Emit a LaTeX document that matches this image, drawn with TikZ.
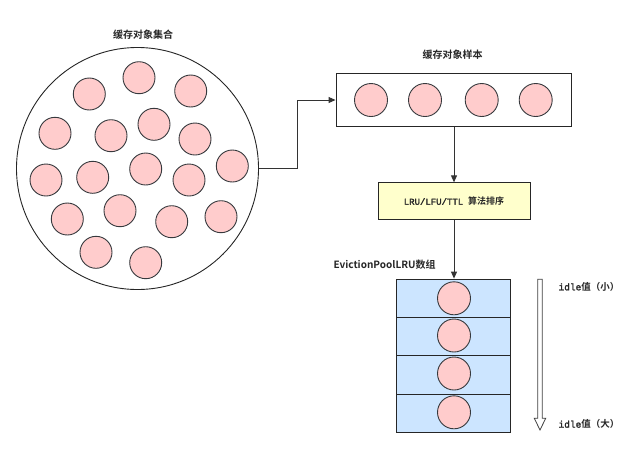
\documentclass[tikz,border=0pt]{standalone}
\usepackage{fontspec}
\setmainfont{Noto Sans CJK SC}
\newfontfamily\cjk{Noto Sans CJK SC}
\newfontfamily\cjkb{Noto Sans CJK SC Bold}
\newfontfamily\monofont{Liberation Mono}[RawFeature={embolden=2}]
\usetikzlibrary{arrows.meta}
\definecolor{ballfill}{HTML}{FFCCCC}
\definecolor{ballline}{HTML}{36393D}
\definecolor{arrfill}{HTML}{CCE5FF}
\definecolor{yelfill}{HTML}{FFFFCC}
\begin{document}
\begin{tikzpicture}[x=1pt,y=-1pt,
  ball/.style={circle,draw=ballline,fill=ballfill,line width=0.9pt,minimum size=32pt,inner sep=0pt},
  frame/.style={draw=black!85,line width=0.9pt},
  title/.style={font=\fontsize{10}{12}\selectfont\cjkb,text=black!85},
  conn/.style={draw=black!80,line width=0.9pt,-{Triangle[length=7pt,width=6pt]}},
  mono/.style={font=\fontsize{9}{11}\selectfont,text=black!85}]
\useasboundingbox (0,0) rectangle (642,456);
% big set
\node[frame,circle,minimum size=242pt,inner sep=0pt] (set) at (137.5,168.5) {};
\node[title] (settitle) at (143,35) {缓存对象集合};
\foreach \i/\x/\y in {1/139/77.7,2/89.3/94,3/190.7/91,4/55/133.3,5/111/135.7,6/154/124.3,7/195/139,8/46/180,9/92.7/177.3,10/145.7/169,11/189/180,12/232.3/166,13/67.3/219,14/120/210.7,15/171.7/221.7,16/221/216.7,17/96/252.3,18/145.7/262.7}
  \node[ball] (s\i) at (\x,\y) {};
% sample box
\node[frame,rectangle,minimum width=235pt,minimum height=53pt,inner sep=0pt] (sample) at (453.5,100) {};
\node[title] (sampletitle) at (452.7,55) {缓存对象样本};
\foreach \i/\x in {1/371,2/425,3/481.7,4/535.7}
  \node[ball,minimum size=33pt] (t\i) at (\x,100) {};
% connector set -> sample
\coordinate (bend1) at (297.3,168.5);
\coordinate (bend2) at (297.3,100);
\draw[conn] (set.east) -- (bend1) -- (bend2) -- (sample.west);
% algorithm box
\node[frame,rectangle,fill=yelfill,minimum width=152pt,minimum height=37pt,inner sep=0pt,mono] (algo) at (454,201.3) {{\monofont LRU/LFU/TTL}\hspace{5pt}{\cjkb 算法排序}};
\draw[conn] (sample.south -| algo.north) -- (algo.north);
% array
\node[title,anchor=west] (arrtitle) at (330,265) {EvictionPoolLRU数组};
\foreach \i/\y in {1/298.2,2/336.5,3/374.9,4/413.2}{
  \node[frame,rectangle,fill=arrfill,minimum width=113.6pt,minimum height=38.3pt,inner sep=0pt] (r\i) at (453.5,\y) {};
}
\foreach \i/\y in {1/298.3,2/335.5,3/373.5,4/412.3}
  \node[ball,minimum size=33pt] (a\i) at (454,\y) {};
\draw[conn] (algo.south) -- (r1.north -| algo.south);
% idle arrow (hollow)
\draw[draw=black!75,line width=0.8pt,fill=white] (537.7,279.3) -- (542.3,279.3) -- (542.3,418.3) -- (545.7,418.3) -- (540,430) -- (534.3,418.3) -- (537.7,418.3) -- cycle;
\node[mono,anchor=west,font=\fontsize{9.5}{11}\selectfont] (small) at (555,286.7) {{\monofont idle}{\cjkb 值（小）}};
\node[mono,anchor=west,font=\fontsize{9.5}{11}\selectfont] (large) at (555,424) {{\monofont idle}{\cjkb 值（大）}};
\end{tikzpicture}
\end{document}
